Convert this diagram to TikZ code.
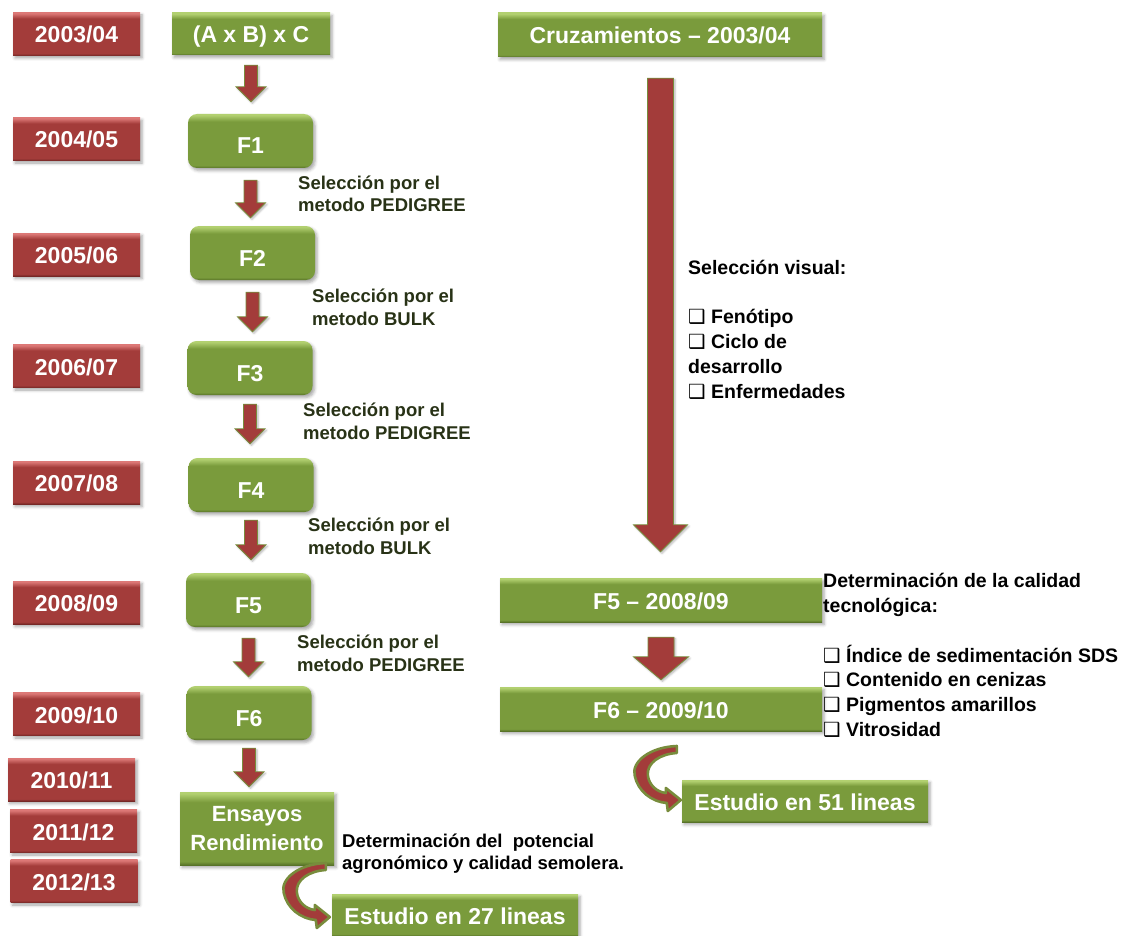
\documentclass[tikz,border=0pt]{standalone}
\usepackage{fontspec}
\setmainfont{Liberation Sans}
\newfontfamily\symfam{DejaVu Sans}
\usetikzlibrary{calc,shadows.blur}

\definecolor{rmain}{RGB}{163,60,58}
\definecolor{rlight}{RGB}{220,120,118}
\definecolor{rdark}{RGB}{118,40,38}
\definecolor{gmain}{RGB}{122,155,60}
\definecolor{glight}{RGB}{178,208,112}
\definecolor{gdark}{RGB}{88,115,40}
\definecolor{labeltext}{RGB}{40,50,22}
\definecolor{arrowedge}{RGB}{120,140,60}

% bevelled fills: dark lower edge, flat body, light upper edge
\pgfdeclareverticalshading{redbevel}{100bp}{color(0bp)=(rdark); color(25bp)=(rdark); color(27.5bp)=(rmain); color(68bp)=(rmain); color(74bp)=(rlight); color(100bp)=(rlight)}
\pgfdeclareverticalshading{greenbevel}{100bp}{color(0bp)=(gdark); color(25bp)=(gdark); color(27.5bp)=(gmain); color(68bp)=(gmain); color(74bp)=(glight); color(100bp)=(glight)}

\newcommand\boxmark{{\symfam ❑}}

% straight block arrow pointing down: start, end, half shaft, half head, head length
\newcommand\blockarrow[5]{%
  \path[blockarrow] let \p1=#1, \p2=#2 in
    (\x1-#3,\y1) -- (\x1+#3,\y1) -- (\x1+#3,\y2+#5) -- (\x1+#4,\y2+#5) -- (\x1,\y2)
    -- (\x1-#4,\y2+#5) -- (\x1-#3,\y2+#5) -- cycle;}

\tikzset{
  softshadow/.style={blur shadow={shadow xshift=2pt, shadow yshift=-2.5pt, shadow blur radius=3pt, shadow opacity=35}},
  yearbox/.style={shade, shading=redbevel, minimum width=127pt, minimum height=43pt, inner sep=0pt,
    text=white, font=\fontsize{23}{27}\selectfont\bfseries, text height=18pt, text depth=0pt, softshadow},
  greenbox/.style={shade, shading=greenbevel, inner sep=0pt, text=white,
    font=\fontsize{23}{27}\selectfont\bfseries, softshadow},
  onelinebox/.style={greenbox, text height=18pt, text depth=0pt},
  genbox/.style={greenbox, rounded corners=9pt, minimum width=125pt, minimum height=54pt,
    text height=26pt, text depth=0pt},
  widebox/.style={onelinebox, minimum width=322pt, minimum height=44pt},
  studybox/.style={onelinebox, minimum width=246pt, minimum height=42pt},
  selnote/.style={anchor=west, align=left, inner sep=0pt, text=labeltext,
    font=\fontsize{18.5}{22.5}\selectfont\bfseries},
  listnote/.style={anchor=west, align=left, inner sep=0pt, text=black,
    font=\fontsize{19.5}{24.8}\selectfont\bfseries},
  blockarrow/.style={fill=rmain, draw=arrowedge, line width=0.8pt,
    blur shadow={shadow xshift=1.5pt, shadow yshift=-1.5pt, shadow blur radius=2pt, shadow opacity=30}},
  curvefill/.style={fill=rmain, draw=arrowedge, line width=2.6pt, line join=round},
  curvedarrow/.pic={
    \path[curvefill] (-3,-54) .. controls (-30,-53) and (-49,-38) .. (-45,-24)
      .. controls (-42,-9) and (-28,2) .. (-13,3) -- (-12,11) -- (1,0) -- (-14,-12) -- (-14,-7)
      .. controls (-23,-8) and (-31,-15) .. (-32,-25)
      .. controls (-33,-37) and (-20,-46) .. (-3,-47) -- cycle;
  }
}

\begin{document}
\begin{tikzpicture}[x=1pt, y=-1pt]
\useasboundingbox (0,0) rectangle (1121,936);

% season column
\node[yearbox] (y03) at (76.5,34)  {2003/04};
\node[yearbox] (y04) at (76.5,139) {2004/05};
\node[yearbox] (y05) at (76.5,254.5) {2005/06};
\node[yearbox] (y06) at (76.5,366) {2006/07};
\node[yearbox] (y07) at (76.5,482.5) {2007/08};
\node[yearbox] (y08) at (76.5,602.5) {2008/09};
\node[yearbox] (y09) at (76.5,714) {2009/10};
\node[yearbox] (y10) at (71.5,779.5) {2010/11};
\node[yearbox] (y11) at (73.5,831) {2011/12};
\node[yearbox] (y12) at (74,881) {2012/13};

% generation column
\node[onelinebox, minimum width=158pt, minimum height=42pt] (cross) at (251,34) {(A x B) x C};
\node[genbox] (f1) at (250.5,141) {F1};
\node[genbox] (f2) at (252.5,253) {F2};
\node[genbox] (f3) at (250,368) {F3};
\node[genbox] (f4) at (251,485) {F4};
\node[genbox] (f5) at (248.5,600) {F5};
\node[genbox] (f6) at (249,713) {F6};
\node[greenbox, minimum width=154pt, minimum height=73pt, align=center,
  font=\fontsize{22}{29}\selectfont\bfseries] (trial) at (257,828.5) {Ensayos\\Rendimiento};

\blockarrow{($(cross.south)+(0,10)$)}{($(f1.north)+(0,-12)$)}{6.5pt}{15pt}{15pt}
\blockarrow{($(f1.south)+(0,12)$)}{($(f2.north)+(0,-8)$)}{6.5pt}{15pt}{15pt}
\blockarrow{($(f2.south)+(0,12)$)}{($(f3.north)+(0,-9)$)}{6.5pt}{15pt}{15pt}
\blockarrow{($(f3.south)+(0,9)$)}{($(f4.north)+(0,-14)$)}{6.5pt}{15pt}{15pt}
\blockarrow{($(f4.south)+(0,8)$)}{($(f5.north)+(0,-13)$)}{6.5pt}{15pt}{15pt}
\blockarrow{($(f5.south)+(0,11)$)}{($(f6.north)+(0,-9)$)}{6.5pt}{15pt}{15pt}
\blockarrow{($(f6.south)+(0,8)$)}{($(trial.north)+(0,-5)$)}{6.5pt}{15pt}{15pt}

\node[selnote] (s1) at (298,194)   {Selección por el\\metodo PEDIGREE};
\node[selnote] (s2) at (312,307.5) {Selección por el\\metodo BULK};
\node[selnote] (s3) at (303,421.5) {Selección por el\\metodo PEDIGREE};
\node[selnote] (s4) at (308,536.5) {Selección por el\\metodo BULK};
\node[selnote] (s5) at (297,653.5) {Selección por el\\metodo PEDIGREE};

\node[selnote, text=black] (agro) at (342,853.5) {Determinación del\ \ potencial\\agronómico y calidad semolera.};

\node[studybox] (st27) at (455,915) {Estudio en 27 lineas};
\pic at ($(st27.west)+(-3,2)$) {curvedarrow};

% right-hand summary
\node[widebox, minimum width=324pt] (cruz) at (660,35) {Cruzamientos -- 2003/04};
\node[widebox] (g5) at (661,600) {F5 -- 2008/09};
\node[widebox] (g6) at (661,709) {F6 -- 2009/10};

\blockarrow{($(cruz.south)+(0.5,21)$)}{($(g5.north)+(0,-26)$)}{13pt}{27pt}{27pt}
\blockarrow{($(g5.south)+(0,15)$)}{($(g6.north)+(0,-7)$)}{13pt}{27.5pt}{23pt}

\node[listnote] (visual) at (688,329.5)
  {Selección visual:\\[24.8pt]\boxmark\ Fenótipo\\\boxmark\ Ciclo de\\desarrollo\\\boxmark\ Enfermedades};
\node[listnote] (tech) at (823,655.5)
  {Determinación de la calidad\\tecnológica:\\[24.8pt]\boxmark\ Índice de sedimentación SDS\\\boxmark\ Contenido en cenizas\\\boxmark\ Pigmentos amarillos\\\boxmark\ Vitrosidad};

\node[studybox] (st51) at (805,801) {Estudio en 51 lineas};
\pic at ($(st51.west)+(-2,-1)$) {curvedarrow};
\end{tikzpicture}
\end{document}
